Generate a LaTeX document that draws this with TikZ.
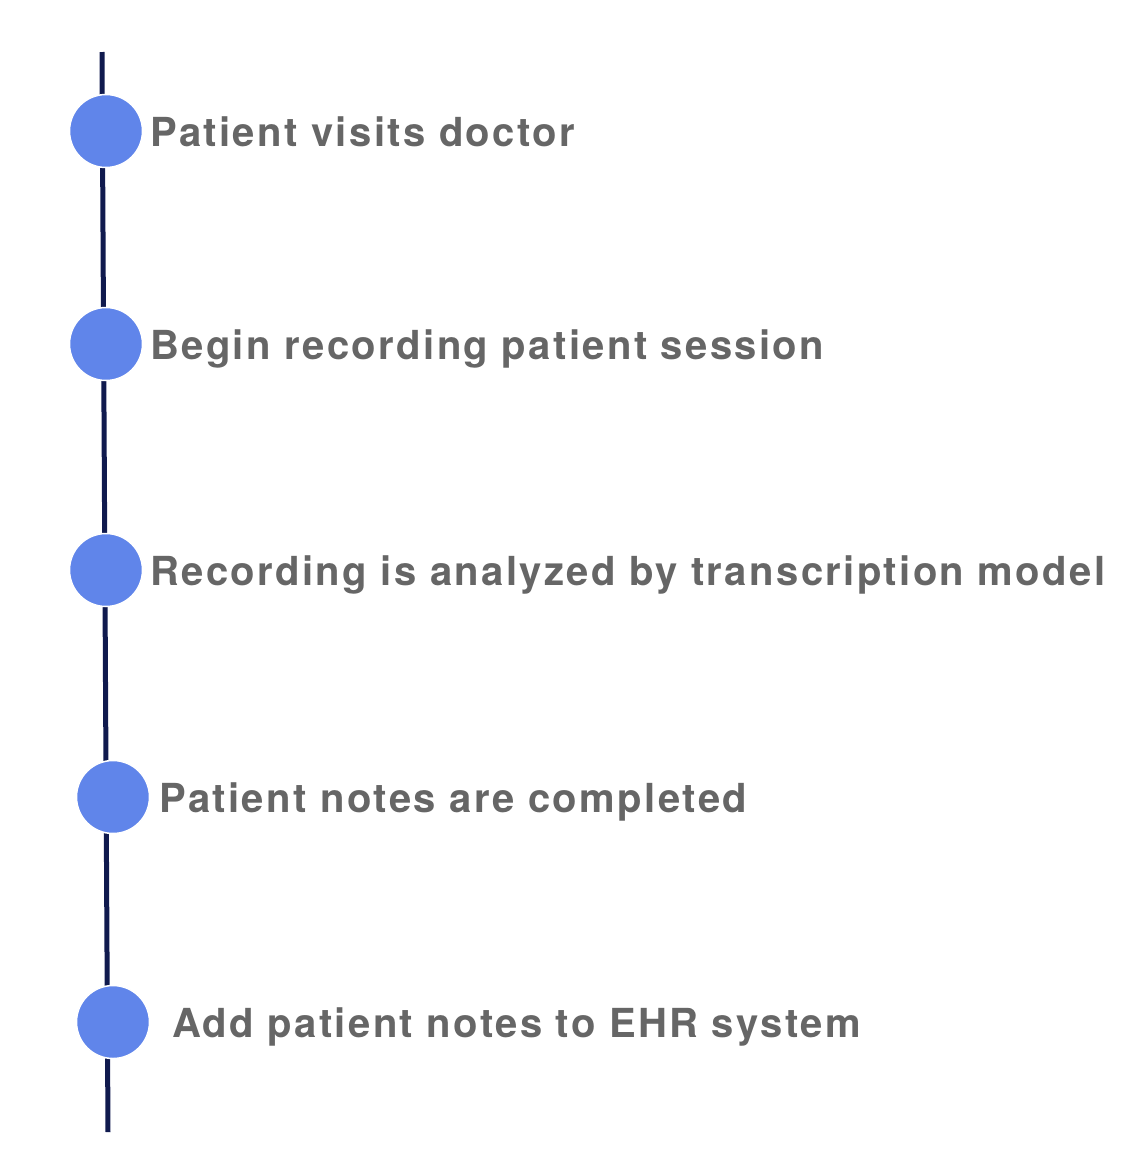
\documentclass[tikz,border=0pt]{standalone}
\usepackage{fontspec}
\usetikzlibrary{positioning}
\newfontfamily\steplabelfont[LetterSpace=6.0]{TeX Gyre Heros}
\definecolor{dotblue}{HTML}{6085EA}
\definecolor{linenavy}{HTML}{101A4E}
\definecolor{labelgray}{HTML}{666666}

\begin{document}
\begin{tikzpicture}[
  x=1pt,y=-1pt,
  dot/.style={draw=white,line width=1.5pt,circle,fill=dotblue,minimum size=73pt,inner sep=0pt},
  steptext/.style={anchor=base west,inner sep=0pt,text=labelgray,
    font=\steplabelfont\bfseries\fontsize{40}{48}\selectfont}
]
\useasboundingbox (0,0) rectangle (1146,1168);
\coordinate (top) at (102,52);
\coordinate (bottom) at (108,1132);
\draw[linenavy,line width=5pt] (top) -- (bottom);
\node[dot] (d1) at (106,131) {};
\node[dot] (d2) at (106,344) {};
\node[dot] (d3) at (106,570) {};
\node[dot] (d4) at (113,797) {};
\node[dot] (d5) at (113,1022) {};
\node[steptext] (t1) at (150,146) {Patient visits doctor};
\node[steptext] (t2) at (150,359) {Begin recording patient session};
\node[steptext] (t3) at (150,585) {Recording is analyzed by transcription model};
\node[steptext] (t4) at (159,812) {Patient notes are completed};
\node[steptext] (t5) at (172,1037) {Add patient notes to EHR system};
\end{tikzpicture}
\end{document}
